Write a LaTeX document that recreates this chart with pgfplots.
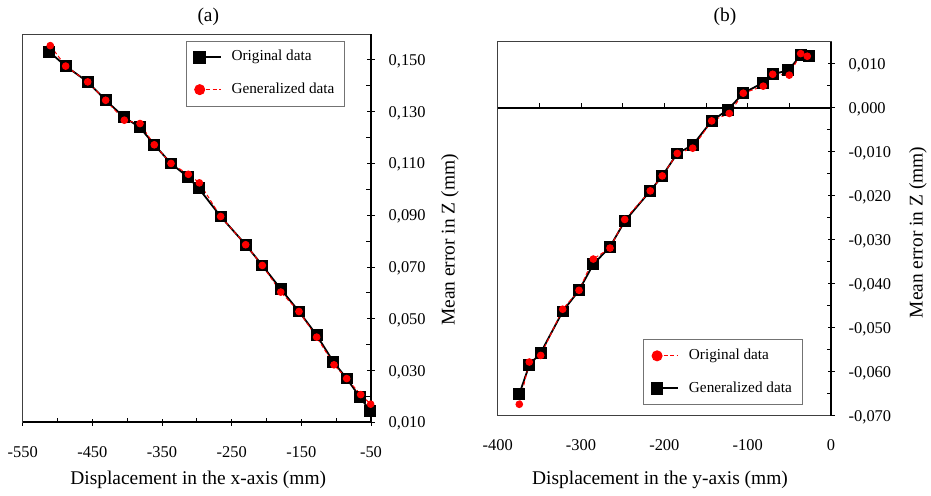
\documentclass[border=0pt]{standalone}
\usepackage{fontspec}
\setmainfont{Liberation Serif}
\usepackage{pgfplots}
\pgfplotsset{compat=1.18}

\pgfplotsset{
  panel/.style={
    scale only axis, anchor=south west, clip=false,
    axis line style={line width=0.8bp, black!75},
    tick style={line width=0.9bp, black},
    tick align=center, major tick length=7bp, minor tick length=4.5bp,
    minor y tick style={xshift=-2.25bp},
    /pgf/number format/assume math mode=true,
    tick label style={font=\fontsize{16.5}{19}\selectfont, inner sep=0pt, text height=11bp, text depth=0bp},
    scaled ticks=false,
    xtick pos=left, ytick pos=right, yticklabel pos=right,
    yticklabel style={anchor=west, xshift=14bp, /pgf/number format/.cd, fixed, fixed zerofill, precision=3, use comma},
    xticklabel style={anchor=center, yshift=-26bp},
    every axis x label/.style={font=\fontsize{19.5}{23}\selectfont, anchor=center},
    every axis y label/.style={font=\fontsize{19.5}{23}\selectfont, anchor=center, rotate=90},
    legend cell align=left,
    legend image code/.code={\draw[##1, mark repeat=2, mark phase=1] plot coordinates {(0bp,0bp) (21bp,0bp)};},
    legend style={draw=black!55, line width=0.6bp, font=\fontsize{15.3}{18}\selectfont, anchor=north west,
      inner xsep=8bp, inner ysep=7bp, row sep=14bp,
      nodes={inner sep=2bp, text height=11bp, text depth=3.5bp},
      /tikz/every odd column/.append style={column sep=8bp}},
  },
  blk/.style={black, line width=1.8bp, mark=square*, mark size=5bp, mark options={solid, fill=black}},
  rd/.style={red, line width=1bp, dash pattern=on 4bp off 2.5bp, mark=*, mark size=3.3bp, mark options={solid, fill=red}},
}

\begin{document}
\begin{tikzpicture}
\path[use as bounding box] (0,0) rectangle (931bp,496bp);

\node[font=\fontsize{19.5}{23}\selectfont] at (208.3bp,479.3bp) {(a)};
\node[font=\fontsize{19.5}{23}\selectfont] at (725bp,479.3bp) {(b)};

% (a)
\begin{axis}[panel,
  at={(22.7bp,73.7bp)}, width=348.3bp, height=388.3bp,
  xmin=-550, xmax=-50, ymin=0.01, ymax=0.16,
  xtick={-550,-450,-350,-250,-150,-50}, minor x tick num=1,
  ytick={0.01,0.03,0.05,0.07,0.09,0.11,0.13,0.15}, minor y tick num=1,
  minor x tick style={yshift=2.25bp},
  xlabel={Displacement in the x-axis (mm)},
  ylabel={Mean error in Z (mm)},
  xlabel style={at={(axis description cs:0.504,-0.147)}},
  ylabel style={at={(axis description cs:1.227,0.4695)}},
  legend style={at={(axis description cs:0.468,0.983)}},
]
\draw[line width=1.8bp] (rel axis cs:0,0) -- (rel axis cs:1,0) -- (rel axis cs:1,1);
\addlegendimage{blk, mark size=5.7bp}
\addlegendentry{Original data}
\addlegendimage{rd, mark size=5bp}
\addlegendentry{Generalized data}
\addplot[blk, forget plot] coordinates {
  (-511.8,0.1531) (-488.3,0.1476) (-456.7,0.1415) (-430.9,0.1344) (-404.1,0.1278)
  (-382.0,0.1240) (-361.1,0.1172) (-337.1,0.1100) (-313.1,0.1048) (-297.3,0.1004)
  (-265.8,0.0895) (-229.9,0.0786) (-206.0,0.0706) (-179.6,0.0615) (-153.4,0.0528)
  (-128.0,0.0437) (-104.1,0.0334) (-84.9,0.0269) (-65.8,0.0197) (-51.4,0.0145)
};
\addplot[rd, forget plot] coordinates {
  (-510.4,0.1555) (-488.3,0.1476) (-456.7,0.1415) (-430.9,0.1344) (-404.1,0.1267)
  (-381.6,0.1254) (-361.1,0.1172) (-337.1,0.1100) (-312.2,0.1058) (-296.4,0.1025)
  (-265.8,0.0895) (-229.9,0.0786) (-206.0,0.0706) (-179.6,0.0603) (-153.4,0.0528)
  (-128.0,0.0429) (-103.1,0.0322) (-84.9,0.0269) (-64.8,0.0207) (-50.5,0.0170)
};
\end{axis}

% (b)
\begin{axis}[panel,
  at={(497.7bp,80.3bp)}, width=333.3bp, height=374bp,
  xmin=-400, xmax=0, ymin=-0.07, ymax=0.015,
  xtick={-400,-300,-200,-100,0}, x tick style={draw=none},
  ytick={-0.07,-0.06,-0.05,-0.04,-0.03,-0.02,-0.01,0,0.01}, minor y tick num=1,
  xlabel={Displacement in the y-axis (mm)},
  ylabel={Mean error in Z (mm)},
  xlabel style={at={(axis description cs:0.487,-0.172)}},
  ylabel style={at={(axis description cs:1.261,0.49)}},
  legend style={at={(axis description cs:0.4368,0.2043)}},
]
\draw[line width=1.8bp] (rel axis cs:1,0) -- (rel axis cs:1,1);
\draw[line width=1.8bp] (axis cs:-400,0) -- (axis cs:0,0);
\pgfplotsinvokeforeach{-350,-300,-250,-200,-150,-100,-50}{
  \draw[line width=0.9bp] (axis cs:#1,0) -- ([yshift=4.5bp]axis cs:#1,0);
}
\addlegendimage{rd, mark size=5bp}
\addlegendentry{Original data}
\addlegendimage{blk, mark size=5.5bp}
\addlegendentry{Generalized data}
\addplot[blk, forget plot] coordinates {
  (-374.1,-0.0651) (-362.1,-0.0585) (-348.4,-0.0557) (-322.0,-0.0463) (-302.4,-0.0415)
  (-285.3,-0.0356) (-265.2,-0.0316) (-247.6,-0.0258) (-216.9,-0.0189) (-202.5,-0.0155)
  (-184.5,-0.0104) (-166.0,-0.0085) (-143.2,-0.0030) (-124.0,-0.0005) (-105.3,0.0033)
  (-81.3,0.0057) (-70.0,0.0076) (-51.3,0.0085) (-36.0,0.0120) (-26.0,0.0117)
};
\addplot[rd, forget plot] coordinates {
  (-374.1,-0.0674) (-362.1,-0.0578) (-348.4,-0.0563) (-322.0,-0.0458) (-302.4,-0.0415)
  (-285.3,-0.0344) (-265.2,-0.0319) (-247.6,-0.0254) (-216.9,-0.0189) (-202.5,-0.0155)
  (-184.5,-0.0104) (-166.0,-0.0092) (-143.2,-0.0030) (-122.1,-0.0013) (-105.3,0.0033)
  (-81.3,0.0049) (-70.0,0.0076) (-50.1,0.0074) (-36.4,0.0123) (-28.5,0.0117)
};
\end{axis}
\end{tikzpicture}
\end{document}
